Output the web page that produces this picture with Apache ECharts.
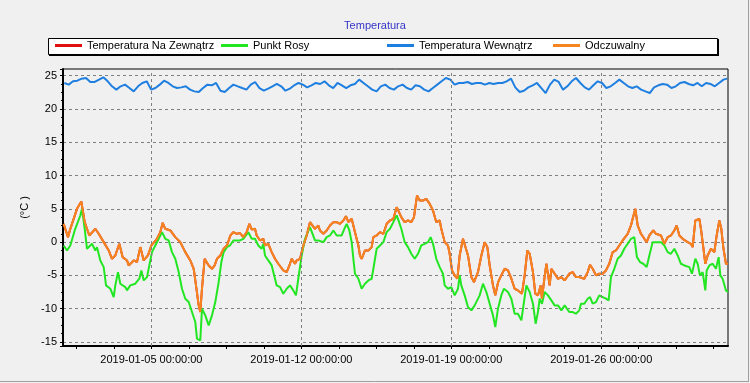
<!DOCTYPE html>
<html>
<head>
<meta charset="utf-8">
<script src="https://cdn.jsdelivr.net/npm/echarts@6.0.0/dist/echarts.min.js"></script>
<style>
html,body{margin:0;padding:0;background:#f0f0f0;}
#chart{width:750px;height:383px;}
</style>
</head>
<body>
<div id="chart"></div>
<script>
// ---- DATA (x = hours since 2019-01-01 00:00) ----
const seriesNames = ['Temperatura Na Zewnątrz', 'Punkt Rosy', 'Temperatura Wewnątrz', 'Odczuwalny'];
const xTickHours = [12,54,96,138,180,222,264,306,348,390,432,474,516,558,600,642,684,726];
const xLabelHours = [96,264,432,600];
const xMinHour = -3, xMaxHour = 742;
const yMin = -15.6, yMax = 26;

// Odczuwalny (feels-like)
const feelPoints = [[-2.3,2.75],[2.6,0.75],[5.2,2.0],[12.7,5.0],[17.5,6.1],[21.3,3.0],[26.5,1.0],[33.2,2.0],[37,1.25],[42.6,0],[48.2,-1.25],[51.9,-2.5],[55.6,-2.0],[60.1,-0.25],[63.8,-2.25],[68.7,-2.75],[70.6,-3.5],[76.2,-2.75],[79.9,-3.0],[83.6,-0.75],[87.4,-2.75],[92.2,-2.0],[96,-0.5],[102.3,0.5],[106,1.5],[108.7,2.9],[111.6,2.0],[117.2,1.75],[122.8,0.75],[128.4,0],[134,-1.5],[139.6,-2.75],[143.4,-4.0],[146,-6.5],[149,-9.5],[150.8,-10.5],[152.7,-7.0],[155.7,-2.5],[160.2,-3.5],[163.9,-4.0],[166.9,-3.5],[169.5,-2.5],[173.3,-2.0],[177,-1.0],[180.7,-0.5],[184.5,1.0],
[187.8,1.5],[191.6,1.25],[195.3,1.35],[199,0.75],[202.8,1.5],[205.8,2.75],[208.4,1.9],[212.1,2.0],[214,1.0],[217.7,0.25],[221.4,0.5],[223.3,-0.5],[227,-0.25],[230.8,-1.5],[234.5,-2.5],[238.2,-3.25],[243.8,-4.25],[247.6,-4.5],[251.3,-3.25],[253.2,-2.5],[256.9,-3.25],[258.8,-2.75],[262.5,-2.5],[266.3,-0.5],[270,1.0],[273.7,3.0],[275.6,3.25],[279.3,2.0],[283.1,2.5],[284.9,1.75],[288.7,1.25],[292.4,1.75],[296.1,2.5],[299.9,3.0],[303.6,3.0],[307.3,2.75],[311.1,3.25],[314,3.9],[316.7,3.0],[320.4,3.5],[324.1,1.5],[327.9,-0.5],[329.7,-2.0],[331.6,-2.5],[335.3,-1.25],[339.1,-1.25],[342.8,-0.75],[344.7,0.75],[348.4,1.0],[352.1,1.5],[355.9,1.25],[359.6,2.75],[363.3,3.25],[367.1,3.5],[370.8,5.25],
[376,3.75],[379.8,3.0],[383.5,3.25],[387.2,3.0],[390.2,3.75],[393.6,7.0],[396.6,6.25],[400.3,6.25],[404,6.5],[407.8,5.75],[411.5,4.75],[415.2,3.0],[419,3.25],[420.8,2.0],[424.6,0],[428.3,-0.5],[430.2,-1.75],[432.8,-4.25],[435.8,-5.0],[438.8,-5.5],[441.4,-2.0],[445.1,0.5],[447,0.25],[450.7,-2.0],[454.5,-5.25],[457.4,-6.0],[461.9,-4.5],[465.7,-2.0],[469.4,0],[472.4,-0.75],[475,-3.5],[478.7,-6.5],[481.3,-8.0],[484.5,-6.0],[488,-5.0],[491.8,-4.0],[495.5,-4.25],[499.3,-5.5],[503,-7.0],[506.7,-7.25],[511.2,-7.75],[514.2,-5.0],[517.2,-1.25],[519.8,-1.75],[523.5,-4.5],[526.1,-7.75],[529.1,-8.0],[532.1,-6.5],[533.6,-8.5],[535.8,-6.0],[538.5,-3.25],[540.3,-3.5],[542.2,-6.5],[544.1,-4.0],[547.8,-4.75],[551.5,-5.5],[555.3,-5.25],[559,-5.75],
[564.2,-4.75],[568,-4.5],[571.7,-5.25],[575.4,-5.25],[581,-5.5],[584.8,-4.5],[587.4,-3.4],[590.4,-4.0],[594.1,-5.0],[597.8,-4.75],[601.6,-4.75],[605.3,-4.25],[609,-3.25],[612.8,-1.5],[616.5,-1.25],[620.2,-0.5],[624,0.25],[629.6,1.25],[633.3,2.5],[635.2,3.5],[638.2,5.0],[640.8,2.5],[644.5,1.25],[648.3,0.5],[650.9,0],[653.9,1.0],[658.3,1.75],[661.3,1.25],[666.9,1.0],[670.7,-0.25],[674.4,0.75],[678.1,1.0],[681.9,1.75],[684.5,2.5],[687.5,1.0],[691.2,0.5],[696.8,0],[700.5,-0.25],[702.4,-0.75],[705.4,3.25],[709.9,3.5],[711.7,2.0],[714.3,-0.75],[716.6,-3.25],[719.2,-2.0],[722.9,-1.0],[726.7,-1.5],[729.3,1.0],[732.3,3.25],[734.5,2.0],[736.7,-0.75],[739.7,-3.25],[742,-3.25]];

// Temperatura Na Zewnątrz (hidden under Odczuwalny in the picture: same readings)
const outsidePoints = feelPoints;

// Punkt Rosy (dew point)
const dewPoints = [[-2.3,-0.5],[1.5,-1.25],[5.2,-0.5],[10.7,2.0],[16.4,4.0],[18.3,5.0],[21.3,2.0],[23.9,-1.0],[29.5,-0.25],[33.2,-1.25],[35.1,-0.75],[38.8,-2.75],[42.6,-3.75],[45.2,-6.5],[50,-7.0],[53.8,-8.25],[55.6,-6.5],[58.6,-4.5],[61.2,-6.25],[66.8,-6.75],[68.7,-7.25],[72.4,-6.5],[78,-6.25],[82.5,-5.5],[84.8,-4.25],[87.4,-5.75],[91.1,-5.25],[93.7,-3.5],[96.7,-1.5],[100.4,-0.5],[104.2,0.5],[107.9,1.5],[111.6,0.5],[115.4,0.25],[119.1,-1.5],[122.8,-2.5],[126.6,-4.5],[130.3,-7.0],[134,-8.5],[137.8,-9.0],[141.5,-10.5],[145.2,-12.0],[147.1,-14.5],[150.8,-14.75],[152.7,-10.0],[156.4,-11.0],[160.2,-12.5],[163.9,-11.0],[167.6,-9.0],[171.4,-6.0],[174.4,-3.0],[177,-1.5],[180.7,-0.75],
[184.1,-0.5],[187.8,0.25],[191.6,0.25],[195.3,0.25],[199,0.5],[204.6,1.5],[208.4,0.5],[212.1,0.5],[215.8,-0.5],[219.6,-1.0],[221.4,-0.25],[223.3,-2.0],[227,-2.75],[230.8,-3.5],[232.6,-4.5],[236.4,-6.5],[240.1,-6.75],[243.8,-7.75],[247.6,-7.0],[251.3,-6.5],[253.2,-6.25],[255,-7.25],[258,-8.0],[260.6,-5.5],[264.4,-2.0],[268.1,0.5],[273.7,2.25],[275.6,2.0],[279.3,0.25],[283.1,0.25],[288.7,0],[292.4,0.75],[296.1,1.0],[299.9,1.75],[303.6,1.0],[309.2,1.0],[313,2.25],[314.8,2.75],[317.8,1.75],[320.4,0],[322.3,-2.5],[324.1,-4.75],[327.9,-5.5],[331.6,-7.0],[335.3,-6.25],[339.1,-5.75],[342.8,-5.5],[344.7,-4.0],[348.4,-1.0],[352.1,-0.5],[355.9,0],[359.6,1.5],[363.3,2.0],[367.1,3.0],[370.8,4.0],
[372.3,3.5],[376,2.0],[379.8,0],[383.5,-0.75],[387.2,-1.75],[391,-2.5],[394.7,-1.75],[398.4,-0.5],[402.2,-0.25],[405.9,0],[408.9,0.75],[411.5,-0.25],[415.2,-2.5],[419,-3.75],[422.7,-4.75],[424.6,-6.5],[428.3,-7.0],[432,-6.75],[435.8,-8.0],[439.5,-7.0],[441.4,-5.0],[443.2,-6.5],[447,-8.0],[450.7,-9.75],[454.5,-10.25],[458.2,-9.5],[463.8,-8.0],[467.5,-6.25],[471.3,-7.5],[475,-9.25],[478.7,-11.0],[481.3,-12.75],[484.3,-10.0],[488,-8.0],[491,-7.0],[495.5,-7.5],[499.3,-8.5],[503,-10.75],[506.7,-10.75],[510.5,-11.75],[513.4,-9.0],[516.1,-6.5],[519.8,-7.5],[523.5,-9.25],[526.5,-12.25],[529.1,-10.5],[531,-8.5],[533.6,-9.25],[536.6,-7.5],[540.3,-8.0],[544.1,-8.75],[547.8,-9.5],[551.5,-9.5],[555.3,-10.25],[559,-9.5],
[564.2,-10.5],[568,-10.5],[571.7,-10.75],[575.4,-10.25],[577.3,-9.25],[581,-9.25],[584.8,-8.5],[587.4,-8.25],[590.4,-9.25],[594.1,-9.0],[597.8,-8.0],[601.6,-8.25],[605.3,-8.5],[608.3,-8.75],[610.9,-5.25],[614.6,-4.0],[618.4,-2.5],[622.1,-2.0],[625.8,-1.0],[629.6,-0.25],[633.3,0.5],[637,0.75],[640,-2.25],[643.4,-3.0],[647.1,-3.25],[650.9,-3.75],[653.9,-2.0],[657.6,0],[661.3,0],[666.9,0],[670.7,-0.5],[674.4,-1.5],[678.1,-1.75],[681.9,-1.0],[685.6,-2.0],[689.3,-3.25],[693.1,-3.5],[698.7,-3.75],[701.6,-4.75],[705.4,-2.5],[708,-3.25],[710.6,-5.0],[713.6,-4.5],[716.6,-7.25],[718.1,-4.25],[721.1,-3.5],[724.8,-3.25],[728.5,-4.0],[731.5,-2.25],[733.4,-5.0],[736,-5.5],[739.7,-7.25],[742,-7.5]];

// Temperatura Wewnątrz (inside)
const insideHours = [-1.5,3.4,8.2,13.1,17.9,22.8,27.6,32.5,37.4,42.2,47.1,51.9,56.8,61.6,66.5,71.4,76.2,81.1,85.9,90.8,95.7,100.5,105.4,110.2,115.1,119.9,124.8,129.7,134.5,139.4,144.2,149.1,153.9,158.8,163.7,168.5,173.4,178.2,183.1,187.9,192.8,197.7,202.5,207.4,212.2,217.1,222,226.8,231.7,236.5,241.4,246.2,251.1,256,260.8,265.7,270.5,275.4,280.2,285.1,290,294.8,299.7,304.5,309.4,314.3,319.1,324,328.8,333.7,338.5,343.4,348.3,353.1,358,362.8,367.7,372.5,377.4,382.3,387.1,392,396.8,401.7,406.6,411.4,416.3,421.1,426,430.9,435.7,440.6,445.4,450.3,455.1,460,464.9,469.7,474.6,479.4,484.3,489.2,494,498.9,503.7,508.6,513.4,518.3,523.2,528,532.9,537.7,542.6,547.4,552.3,557.2,562,566.9,571.7,576.6,581.5,586.3,591.2,596,600.9,605.7,610.6,615.5,620.3,625.2,630,634.9,639.7,644.6,649.5,654.3,659.2,664,668.9,673.8,678.6,683.5,688.3,693.2,698,702.9,707.8,712.6,717.5,722.3,727.2,732,736.9,741];
const insideTemp = [23.9,23.65,24.15,24.25,24.55,24.65,24.05,24.05,24.4,24.75,24.15,23.4,22.9,23.4,23.65,23.14,22.64,23.4,23.9,24.15,22.9,23.14,23.65,24.25,23.9,23.4,23.14,23.24,23.4,22.9,22.64,22.54,23.14,23.65,23.55,23.9,22.74,22.54,23.14,23.65,23.4,23.14,22.9,23.65,24.05,23.14,22.74,23.04,23.4,23.75,23.4,22.74,23.04,23.55,23.9,23.65,23.24,23.55,23.9,23.75,24.15,23.55,23.14,23.9,23.55,23.14,23.55,23.75,24.4,23.9,23.4,22.9,22.64,23.4,23.65,23.14,22.9,23.4,23.65,23.14,22.9,23.55,23.4,22.9,22.64,23.14,23.65,24.15,24.65,24.4,23.65,23.9,23.9,24.05,23.75,23.9,23.9,23.65,23.9,23.75,23.9,23.9,24.15,24.55,23.24,22.54,22.74,23.24,23.55,23.9,23.14,22.39,23.65,24.4,24.05,22.9,23.4,24.15,24.65,23.9,23.24,22.9,23.55,24.15,23.9,23.14,23.4,23.9,24.4,23.9,23.4,23.14,23.4,22.9,22.64,22.39,23.24,23.55,23.75,23.65,23.14,23.4,23.9,24.05,23.75,23.55,23.9,23.4,23.9,23.75,23.4,23.9,24.4,24.55];

// ---- CHART ----
const FONT = '"Liberation Sans", Arial, sans-serif';
function hourLabel(h) {
  const d = new Date(Date.UTC(2019, 0, 1) + h * 3600000);
  const p = n => String(n).padStart(2, '0');
  return d.getUTCFullYear() + '-' + p(d.getUTCMonth() + 1) + '-' + p(d.getUTCDate()) + ' ' +
    p(d.getUTCHours()) + ':' + p(d.getUTCMinutes()) + ':' + p(d.getUTCSeconds());
}
const insidePoints = insideHours.map((h, i) => [h, insideTemp[i]]);
const colors = ['#e01010', '#22e622', '#1f7fe0', '#f5861f'];
const legendLefts = [55, 221, 387, 553];

const chart = echarts.init(document.getElementById('chart'), null, {renderer: 'canvas'});
chart.setOption({
  animation: false,
  backgroundColor: '#f0f0f0',
  color: colors,
  textStyle: {fontFamily: FONT},
  title: {
    text: 'Temperatura', left: 'center', top: 15,
    textStyle: {fontSize: 11, fontWeight: 'normal', color: '#3434c8', fontFamily: FONT}
  },
  graphic: [
    {type: 'line', z: 0, shape: {x1: 748.5, y1: 0, x2: 748.5, y2: 382}, style: {stroke: '#a0a0a0', lineWidth: 1}},
    {type: 'line', z: 0, shape: {x1: 0, y1: 381.5, x2: 749, y2: 381.5}, style: {stroke: '#a0a0a0', lineWidth: 1}},
    {type: 'rect', z: 0, shape: {x: 49, y: 39, width: 670, height: 17}, style: {fill: '#000'}},
    {type: 'rect', z: 0, shape: {x: 48.5, y: 38.5, width: 669, height: 16}, style: {fill: '#fff', stroke: '#000', lineWidth: 1}}
  ],
  legend: seriesNames.map((name, i) => ({
    left: legendLefts[i], top: 40, z: 5, padding: 0,
    icon: 'rect', itemWidth: 27, itemHeight: 3,
    textStyle: {fontSize: 11, color: '#000', fontFamily: FONT},
    data: [name]
  })),
  grid: {
    left: 63, right: 22, top: 69, bottom: 37,
    show: true, borderColor: '#000', borderWidth: 1, backgroundColor: 'transparent'
  },
  xAxis: {
    type: 'value', min: xMinHour, max: xMaxHour,
    axisLine: {show: true, onZero: false, lineStyle: {color: '#000', width: 2}},
    axisTick: {show: true, customValues: xTickHours, length: 3, lineStyle: {color: '#000'}},
    axisLabel: {customValues: xLabelHours, formatter: v => hourLabel(v), color: '#000', fontSize: 11, margin: 8, fontFamily: FONT},
    splitLine: {show: false}
  },
  yAxis: {
    type: 'value', min: yMin, max: yMax, splitNumber: 8,
    name: '(°C )', nameLocation: 'middle', nameGap: 26, nameRotate: 90,
    nameTextStyle: {fontSize: 11, color: '#000', fontFamily: FONT},
    axisLine: {show: true, onZero: false, lineStyle: {color: '#000', width: 2}},
    axisTick: {show: true, length: 3, lineStyle: {color: '#000'}},
    minorTick: {show: true, splitNumber: 4, length: 2, lineStyle: {color: '#000'}},
    axisLabel: {showMinLabel: false, showMaxLabel: false, color: '#000', fontSize: 11, margin: 6, fontFamily: FONT},
    splitLine: {show: true, showMinLine: false, showMaxLine: false, lineStyle: {color: '#808080', type: [3, 3], width: 1}}
  },
  series: [
    {name: seriesNames[0], type: 'line', data: outsidePoints, showSymbol: false, lineStyle: {width: 2}},
    {name: seriesNames[1], type: 'line', data: dewPoints, showSymbol: false, lineStyle: {width: 2}},
    {name: seriesNames[2], type: 'line', data: insidePoints, showSymbol: false, lineStyle: {width: 2},
     markLine: {silent: true, symbol: 'none', label: {show: false}, animation: false,
       lineStyle: {color: '#808080', type: [3, 3], width: 1},
       data: xLabelHours.map(h => ({xAxis: h}))}},
    {name: seriesNames[3], type: 'line', data: feelPoints, showSymbol: false, lineStyle: {width: 2}}
  ]
});
</script>
</body>
</html>
